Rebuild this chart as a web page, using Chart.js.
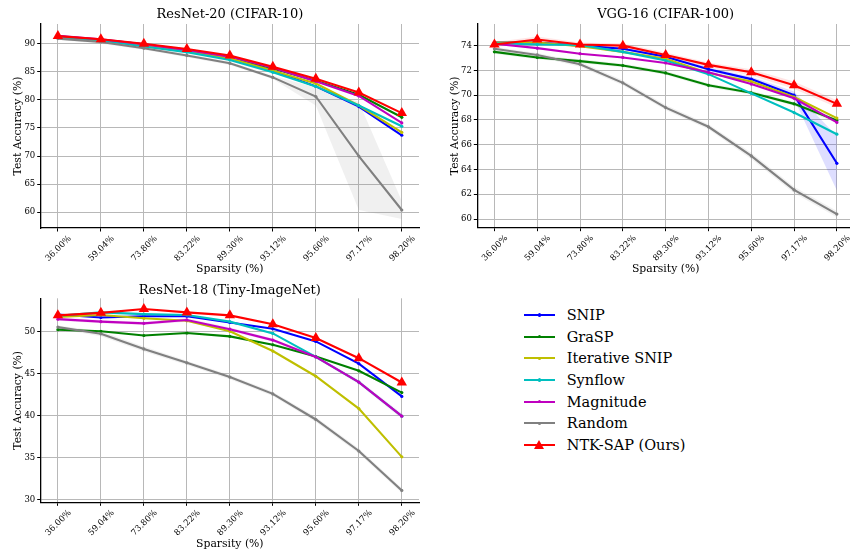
<!DOCTYPE html>
<html><head><meta charset="utf-8">
<script src="https://cdn.jsdelivr.net/npm/chart.js@4.4.1/dist/chart.umd.min.js"></script>
<style>
html,body{margin:0;padding:0;background:#fff;}
body{width:850px;height:552px;overflow:hidden;position:relative;font-family:'DejaVu Serif',serif;}
canvas{position:absolute;display:block;}
.lg{position:absolute;}
.lgtext{position:absolute;font-size:14.5px;color:#000;height:20px;line-height:20px;white-space:nowrap;}
</style></head><body>
<canvas id="c1" width="425" height="276" style="left:0;top:0"></canvas>
<canvas id="c2" width="435" height="276" style="left:425px;top:0"></canvas>
<canvas id="c3" width="425" height="276" style="left:0;top:276px"></canvas>
<div id="legend"></div>
<script>
// ---------- data ----------
const sparsityLabels = ['36.00%','59.04%','73.80%','83.22%','89.30%','93.12%','95.60%','97.17%','98.20%'];
const methods = ['SNIP','GraSP','Iterative SNIP','Synflow','Magnitude','Random','NTK-SAP (Ours)'];
const colors  = ['#0000ff','#008000','#bfbf00','#00bfbf','#bf00bf','#808080','#ff0000'];

// ResNet-20 (CIFAR-10)
const r20Snip      = [91.3, 90.7, 89.9, 88.8, 87.5, 85.2, 82.4, 78.8, 73.7];
const r20Grasp     = [91.2, 90.7, 89.8, 88.8, 87.6, 85.6, 83.4, 80.9, 76.9];
const r20IterSnip  = [91.2, 90.6, 89.6, 88.6, 87.4, 85.2, 82.9, 79.0, 74.2];
const r20Synflow   = [91.2, 90.6, 89.5, 88.5, 87.1, 84.9, 82.4, 79.0, 75.3];
const r20Magnitude = [91.4, 90.8, 89.9, 88.9, 87.7, 85.7, 83.3, 80.7, 75.9];
const r20Random    = [90.9, 90.3, 89.2, 87.9, 86.5, 84.0, 80.6, 70.0, 60.4];
const r20Ntk       = [91.35, 90.8, 90.0, 89.05, 87.9, 85.9, 83.75, 81.3, 77.65];
const r20RandomStd = [0.2, 0.3, 0.3, 0.3, 0.3, 0.3, 1.6, 9.6, 1.6];

// VGG-16 (CIFAR-100)
const vggSnip      = [74.25, 74.25, 74.0, 73.75, 73.1, 72.1, 71.3, 70.0, 64.5];
const vggGrasp     = [73.5, 73.05, 72.75, 72.4, 71.8, 70.8, 70.2, 69.3, 67.95];
const vggIterSnip  = [74.25, 74.25, 73.95, 73.5, 72.95, 71.8, 71.1, 69.85, 68.15];
const vggSynflow   = [74.2, 74.1, 74.05, 73.5, 72.8, 71.7, 70.15, 68.6, 66.85];
const vggMagnitude = [74.15, 73.8, 73.35, 73.05, 72.6, 71.85, 70.9, 69.75, 67.8];
const vggRandom    = [73.75, 73.25, 72.5, 71.0, 69.0, 67.45, 65.1, 62.35, 60.4];
const vggNtk       = [74.1, 74.5, 74.1, 74.0, 73.25, 72.45, 71.85, 70.8, 69.3];
const vggSnipStd   = [0.1, 0.1, 0.1, 0.1, 0.1, 0.15, 0.2, 0.3, 2.2];
const vggNtkStd    = [0.2, 0.25, 0.15, 0.2, 0.2, 0.2, 0.25, 0.3, 0.3];
const vggRandomStd = [0.15, 0.15, 0.2, 0.2, 0.2, 0.2, 0.25, 0.25, 0.25];
const vggGraspStd  = [0.15, 0.15, 0.15, 0.15, 0.15, 0.15, 0.15, 0.15, 0.2];

// ResNet-18 (Tiny-ImageNet)
const r18Snip      = [52.05, 51.7, 51.85, 51.85, 51.1, 50.35, 48.85, 46.2, 42.3];
const r18Grasp     = [50.25, 50.05, 49.55, 49.85, 49.45, 48.45, 47.05, 45.35, 42.75];
const r18IterSnip  = [51.75, 52.0, 51.6, 51.3, 50.05, 47.7, 44.7, 40.85, 35.1];
const r18Synflow   = [51.9, 52.3, 52.1, 52.0, 51.2, 49.8, 47.0, 44.0, 39.95];
const r18Magnitude = [51.5, 51.2, 51.0, 51.4, 50.3, 49.0, 47.0, 44.0, 39.95];
const r18Random    = [50.55, 49.75, 47.95, 46.3, 44.6, 42.6, 39.55, 35.8, 31.1];
const r18Ntk       = [51.95, 52.25, 52.7, 52.3, 51.95, 50.9, 49.25, 46.85, 43.95];
const r18RandomStd = [0.2, 0.3, 0.3, 0.25, 0.25, 0.25, 0.3, 0.3, 0.3];
const r18MagStd    = [0.2, 0.2, 0.2, 0.2, 0.2, 0.2, 0.2, 0.25, 0.3];

// ---------- helpers ----------
const F = "'DejaVu Serif', serif";
function rgba(hex, a){
  const n = parseInt(hex.slice(1),16);
  return `rgba(${(n>>16)&255},${(n>>8)&255},${n&255},${a})`;
}
function pts(arr){ return arr.map((v,i)=>({x:i,y:v})); }

function buildDatasets(series, bands){
  const ds = [];
  bands.forEach(b=>{
    const col = colors[b.k];
    ds.push({data: b.mean.map((m,i)=>({x:i,y:m-b.std[i]})), borderWidth:0, pointRadius:0, fill:false, order:100, borderColor:'transparent', backgroundColor:'transparent'});
    ds.push({data: b.mean.map((m,i)=>({x:i,y:m+b.std[i]})), borderWidth:0, pointRadius:0, fill:'-1', order:100, borderColor:'transparent', backgroundColor: rgba(col, b.a)});
  });
  series.forEach((arr,k)=>{
    const last = k===6;
    ds.push({
      label: methods[k], data: pts(arr), borderColor: colors[k], backgroundColor: colors[k],
      borderWidth: 2.1, tension: 0, fill: false,
      pointRadius: last ? 6 : 1.6, pointStyle: last ? 'triangle' : 'circle', pointBorderWidth: 0,
      order: 7-k
    });
  });
  return ds;
}

function makeChart(id, o){
  return new Chart(document.getElementById(id), {
    type: 'line',
    data: { datasets: buildDatasets(o.series, o.bands) },
    options: {
      responsive: false, animation: false, events: [],
      layout: { padding: { left: 0, right: o.padRight, top: 0, bottom: 0 } },
      plugins: {
        legend: { display: false }, tooltip: { enabled: false },
        title: { display: true, text: o.title, fullSize: false, color: '#000',
                 font: { family: F, size: 13, weight: 'normal' },
                 padding: { top: o.titleTop, bottom: o.titleBottom } }
      },
      scales: {
        x: {
          type: 'linear', min: -0.4, max: 8.4,
          ticks: { stepSize: 1, includeBounds: false, autoSkip: false, minRotation: 45, maxRotation: 45,
                   labelOffset: 12, padding: 2, color: '#000', font: { family: F, size: 8.5 },
                   callback: v => sparsityLabels[Math.round(v)] ?? '' },
          grid: { color: '#b8b8b8', lineWidth: 1, tickColor: '#000', tickLength: 3.5, tickWidth: 1 },
          border: { color: '#000', width: 1.3 },
          title: { display: true, text: 'Sparsity (%)', color: '#000', font: { family: F, size: 10.8 },
                   padding: { top: 0, bottom: o.xTitleBottom } },
          afterFit(s){ s.height = o.xHeight; s.paddingLeft = 0; s.paddingRight = 0; }
        },
        y: {
          min: o.yMin, max: o.yMax,
          ticks: { stepSize: o.yStep, includeBounds: false, padding: 2, color: '#000', font: { family: F, size: 8.5 } },
          grid: { color: '#b8b8b8', lineWidth: 1, tickColor: '#000', tickLength: 3.5, tickWidth: 1 },
          border: { color: '#000', width: 1.3 },
          title: { display: true, text: 'Test Accuracy (%)', color: '#000', font: { family: F, size: 10.8 },
                   padding: { top: o.yTitleTop, bottom: 0 } },
          afterFit(s){ s.width = o.yWidth; s.paddingTop = 0; s.paddingBottom = 0; }
        }
      }
    }
  });
}

makeChart('c1', {
  title: 'ResNet-20 (CIFAR-10)',
  series: [r20Snip, r20Grasp, r20IterSnip, r20Synflow, r20Magnitude, r20Random, r20Ntk],
  bands: [{k:5, mean:r20Random, std:r20RandomStd, a:0.12}],
  yMin: 57.2, yMax: 93.5, yStep: 5,
  padRight: 4, yWidth: 40.7, xHeight: 48, titleTop: 7.2, titleBottom: 1.2, xTitleBottom: 0.5, yTitleTop: 11.8
});
makeChart('c2', {
  title: 'VGG-16 (CIFAR-100)',
  series: [vggSnip, vggGrasp, vggIterSnip, vggSynflow, vggMagnitude, vggRandom, vggNtk],
  bands: [{k:5, mean:vggRandom, std:vggRandomStd, a:0.12}, {k:1, mean:vggGrasp, std:vggGraspStd, a:0.1},
          {k:0, mean:vggSnip, std:vggSnipStd, a:0.13}, {k:6, mean:vggNtk, std:vggNtkStd, a:0.1}],
  yMin: 59.3, yMax: 75.75, yStep: 2,
  padRight: 2.7, yWidth: 52.3, xHeight: 48.3, titleTop: 7.2, titleBottom: 1.2, xTitleBottom: 0.5, yTitleTop: 23.5
});
makeChart('c3', {
  title: 'ResNet-18 (Tiny-ImageNet)',
  series: [r18Snip, r18Grasp, r18IterSnip, r18Synflow, r18Magnitude, r18Random, r18Ntk],
  bands: [{k:5, mean:r18Random, std:r18RandomStd, a:0.12}, {k:4, mean:r18Magnitude, std:r18MagStd, a:0.12}],
  yMin: 29.69, yMax: 53.98, yStep: 5,
  padRight: 4, yWidth: 40.7, xHeight: 49.7, titleTop: 6.7, titleBottom: 0, xTitleBottom: 1.5, yTitleTop: 11.8
});

// ---------- legend ----------
const legend = document.getElementById('legend');
const legendTop = 315, legendStep = 21.67;
methods.forEach((m,k)=>{
  const y = legendTop + k*legendStep;
  const line = document.createElement('div');
  line.className = 'lg';
  Object.assign(line.style, {left:'524px', top:(y-1)+'px', width:'31px', height:'2px', background:colors[k]});
  legend.appendChild(line);
  const mk = document.createElement('div');
  mk.className = 'lg';
  if (k < 6) {
    Object.assign(mk.style, {left:'538px', top:(y-1.6)+'px', width:'3.2px', height:'3.2px', borderRadius:'50%', background:colors[k]});
  } else {
    Object.assign(mk.style, {left:(539.5-5.25)+'px', top:(y-5)+'px', width:'0', height:'0',
      borderLeft:'5.25px solid transparent', borderRight:'5.25px solid transparent', borderBottom:'9.5px solid '+colors[k]});
  }
  legend.appendChild(mk);
  const t = document.createElement('div');
  t.className = 'lgtext';
  t.textContent = m;
  Object.assign(t.style, {left:'566.7px', top:(y-10)+'px'});
  legend.appendChild(t);
});
</script>
</body></html>
